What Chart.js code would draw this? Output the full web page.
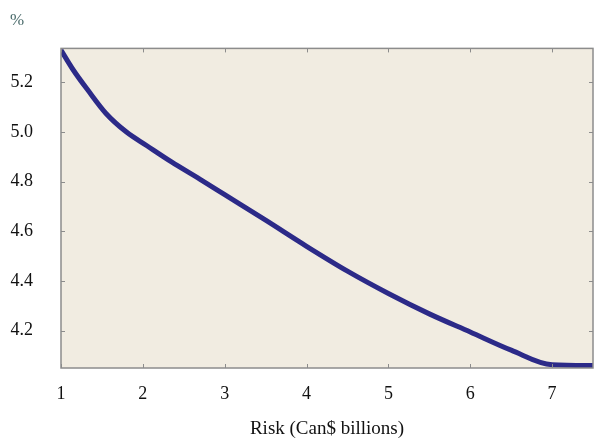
<!DOCTYPE html>
<html>
<head>
<meta charset="utf-8">
<script src="https://cdn.jsdelivr.net/npm/chart.js@4/dist/chart.umd.min.js"></script>
<style>
html,body{margin:0;padding:0;background:#fff;}
#wrap{width:595px;height:445px;position:relative;}
</style>
</head>
<body>
<div id="wrap"><canvas id="c" width="595" height="445"></canvas></div>
<script>
const riskX = [1, 1.15, 1.33, 1.55, 1.8, 2.05, 2.35, 2.7, 3, 3.5, 4, 4.5, 5, 5.5, 6, 6.5, 7, 7.5];
const rateY = [5.33, 5.25, 5.168, 5.075, 5.0, 4.945, 4.88, 4.81, 4.748, 4.645, 4.54, 4.44, 4.35, 4.268, 4.195, 4.122, 4.063, 4.06];
const xTicks = [1, 2, 3, 4, 5, 6, 7];
const yTicks = [4.2, 4.4, 4.6, 4.8, 5.0, 5.2];
const xTitle = 'Risk (Can$ billions)';
const unitLabel = '%';

const FAMILY = '"Liberation Serif", "DejaVu Serif", serif';
const TICKFONT = {family: FAMILY, size: 18, weight: 'normal'};
const TITLEFONT = {family: FAMILY, size: 19, weight: 'normal'};

const frame = {
  id: 'frame',
  beforeDraw(chart) {
    const a = chart.chartArea, ctx = chart.ctx;
    ctx.save();
    ctx.fillStyle = '#F1ECE1';
    ctx.fillRect(a.left, a.top, a.right - a.left, a.bottom - a.top);
    ctx.restore();
  },
  afterDraw(chart) {
    const a = chart.chartArea, ctx = chart.ctx;
    ctx.save();
    ctx.strokeStyle = '#8c8c8c';
    ctx.lineWidth = 1.5;
    ctx.strokeRect(a.left, a.top, a.right - a.left, a.bottom - a.top);
    ctx.lineWidth = 1;
    const L = 4;
    const xs = chart.scales.x, ys = chart.scales.y;
    ctx.beginPath();
    xs.ticks.forEach(t => {
      const p = Math.round(xs.getPixelForValue(t.value)) + 0.5;
      ctx.moveTo(p, a.bottom); ctx.lineTo(p, a.bottom - L);
      ctx.moveTo(p, a.top); ctx.lineTo(p, a.top + L);
    });
    ys.ticks.forEach(t => {
      const p = Math.round(ys.getPixelForValue(t.value)) + 0.5;
      ctx.moveTo(a.left, p); ctx.lineTo(a.left + L, p);
      ctx.moveTo(a.right, p); ctx.lineTo(a.right - L, p);
    });
    ctx.stroke();
    ctx.restore();
  }
};

new Chart(document.getElementById('c'), {
  type: 'line',
  data: {
    datasets: [{
      data: riskX.map((x, i) => ({x: x, y: rateY[i]})),
      borderColor: '#2c2a88',
      borderWidth: 5,
      pointRadius: 0,
      cubicInterpolationMode: 'monotone',
      fill: false
    }]
  },
  options: {
    responsive: false,
    animation: false,
    layout: {padding: {left: 10, right: 2, top: 0, bottom: 0}},
    plugins: {
      legend: {display: false},
      tooltip: {enabled: false},
      title: {
        display: true, text: unitLabel, align: 'start',
        color: '#4a6b6b', font: {family: FAMILY, size: 17, weight: 'normal'},
        padding: {top: 10, bottom: 18}
      }
    },
    scales: {
      x: {
        type: 'linear', min: 1, max: 7.5,
        afterBuildTicks(s) { s.ticks = xTicks.map(v => ({value: v})); },
        afterFit(s) { s.height = 77; },
        grid: {display: false, drawTicks: false},
        border: {display: false},
        ticks: {color: '#111', font: TICKFONT, padding: 15, maxRotation: 0},
        title: {display: true, text: xTitle, color: '#111', font: TITLEFONT, padding: {top: 0, bottom: 5}}
      },
      y: {
        type: 'linear', min: 4.05, max: 5.337,
        afterBuildTicks(s) { s.ticks = yTicks.map(v => ({value: v})); },
        afterFit(s) { s.width = 51; },
        grid: {display: false, drawTicks: false},
        border: {display: false},
        ticks: {color: '#111', font: TICKFONT, padding: 28, callback: v => v.toFixed(1)}
      }
    }
  },
  plugins: [frame]
});
</script>
</body>
</html>
